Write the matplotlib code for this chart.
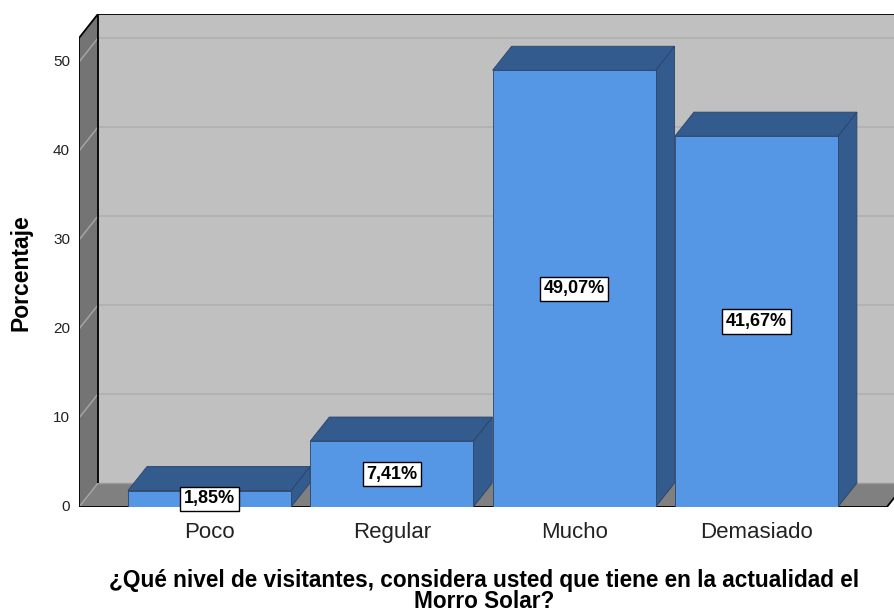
import matplotlib
matplotlib.use("Agg")
import matplotlib.pyplot as plt
import matplotlib.transforms as mtransforms
from matplotlib.patches import Rectangle, Polygon
from matplotlib import font_manager

categories = ["Poco", "Regular", "Mucho", "Demasiado"]
values = [1.85, 7.41, 49.07, 41.67]
yticks = [0, 10, 20, 30, 40, 50]
ylabel = "Porcentaje"
xlabel = "¿Qué nivel de visitantes, considera usted que tiene en la actualidad el\nMorro Solar?"

def has_font(name):
    try:
        font_manager.findfont(font_manager.FontProperties(family=name), fallback_to_default=False)
        return True
    except Exception:
        return False

base_font = "Liberation Sans" if has_font("Liberation Sans") else "DejaVu Sans"
narrow = has_font("Liberation Sans Narrow")
label_font = "Liberation Sans Narrow" if narrow else base_font
label_size = 15.5 if narrow else 13
plt.rcParams['font.family'] = [base_font, 'DejaVu Sans']

W, H = 894, 614
fig = plt.figure(figsize=(W / 100, H / 100), dpi=100)

px_left, px_right, px_floor, px_top = 79, 894, 507, 14
px_per_unit = 8.9
px_per_cat = 182.3
cat0_px = 209.5
xmin = (px_left - cat0_px) / px_per_cat
xmax = (px_right - cat0_px) / px_per_cat
ymax = (px_floor - px_top) / px_per_unit

ax = fig.add_axes([px_left / W, (H - px_floor) / H, (px_right - px_left) / W, (px_floor - px_top) / H])
ax.set_xlim(xmin, xmax)
ax.set_ylim(0, ymax)
for s in ax.spines.values():
    s.set_visible(False)
ax.patch.set_visible(False)

dx = 19 / px_per_cat
dy = 24 / px_per_unit
x0 = xmin
xR = len(categories) - 1 + (-xmin)
top = ymax

wall_back = "#c0c0c0"
wall_side = "#747474"
floor_c = "#808080"
grid_back = "#b2b2b2"
grid_side = "#a4a4a4"

ax.add_patch(Rectangle((x0 + dx, dy), xmax - x0, top - dy, facecolor=wall_back, edgecolor="none", zorder=0))
ax.add_patch(Polygon([(x0, 0), (x0 + dx, dy), (x0 + dx, top), (x0, top - dy)], closed=True,
                     facecolor=wall_side, edgecolor="none", zorder=0))
ax.add_patch(Polygon([(x0, 0), (xR, 0), (xR + dx, dy), (x0 + dx, dy)], closed=True,
                     facecolor=floor_c, edgecolor="none", zorder=0))
for v in yticks[1:]:
    ax.plot([x0 + dx, xmax + 1], [v + dy, v + dy], color=grid_back, lw=1.4, zorder=1)
    ax.plot([x0, x0 + dx], [v, v + dy], color=grid_side, lw=1.1, zorder=1)
ax.plot([x0, x0 + dx], [0, dy], color=grid_side, lw=1.1, zorder=1)
ax.plot([x0 + dx, xR + dx], [dy, dy], color="#9a9a9a", lw=1.0, zorder=1)
k = dict(color="black", lw=1.3, zorder=2, solid_capstyle="butt")
ax.plot([x0, x0], [0, top - dy], **k)
ax.plot([x0, x0 + dx], [top - dy, top], **k)
ax.plot([x0 + dx, xmax + 1], [top, top], **k)
ax.plot([x0 + dx, x0 + dx], [dy, top], **k)
ax.plot([x0, xR], [0, 0], **k)
ax.plot([xR, xR + dx], [0, dy], **k)

bw = 163 / px_per_cat
front_c = "#5596e5"
dark_c = "#335b8e"
edge_c = "#2a4468"
for i, v in enumerate(values):
    l, r = i - bw / 2, i + bw / 2
    ax.add_patch(Polygon([(r, 0), (r + dx, dy), (r + dx, v + dy), (r, v)], closed=True,
                         facecolor=dark_c, edgecolor=edge_c, lw=0.6, zorder=3))
    ax.add_patch(Polygon([(l, v), (r, v), (r + dx, v + dy), (l + dx, v + dy)], closed=True,
                         facecolor=dark_c, edgecolor=edge_c, lw=0.6, zorder=3))
    ax.add_patch(Rectangle((l, 0), bw, v, facecolor=front_c, edgecolor=edge_c, lw=0.6, zorder=4))
    txt = f"{v:.2f}%".replace(".", ",")
    ax.text(i, v / 2, txt, ha="center", va="center", fontsize=label_size, fontweight="bold",
            family=[label_font, 'DejaVu Sans'], color="black", zorder=6,
            bbox=dict(boxstyle="square,pad=0.2", facecolor="white", edgecolor="black", lw=1.0))

ax.set_xticks(range(len(categories)))
ax.set_xticklabels(categories, fontsize=16, color="#222222")
ax.set_yticks(yticks)
ax.set_yticklabels([str(t) for t in yticks], fontsize=11, color="#222222")
shift = mtransforms.ScaledTranslation(0, -3 / 100, fig.dpi_scale_trans)
for lab in ax.get_yticklabels():
    lab.set_verticalalignment("center")
    lab.set_transform(lab.get_transform() + shift)
ax.tick_params(axis="both", length=0)
ax.tick_params(axis="y", pad=6.5)
ax.tick_params(axis="x", pad=10.5)

fig.text(21 / W, 1 - 273 / H, ylabel, rotation=90, ha="center", va="center",
         fontsize=16.5, fontweight="bold")
fig.text(484 / W, 1 - 591 / H, xlabel, ha="center", va="center", fontsize=16.3,
         fontweight="bold", multialignment="center", linespacing=0.92)

fig.savefig("out.png", dpi=100)
